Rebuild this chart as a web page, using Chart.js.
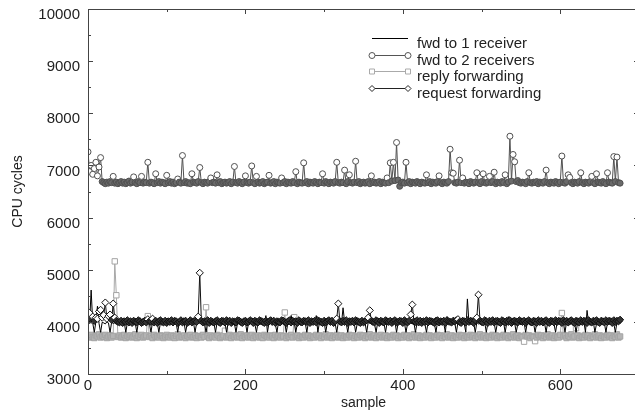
<!DOCTYPE html>
<html lang="en">
<head>
  <meta charset="UTF-8">
  <title>CPU cycles per sample</title>
  <script src="https://cdn.jsdelivr.net/npm/chart.js"></script>
  <style>
    body { margin: 0; background: #fff; }
    .wrap { width: 635px; height: 412px; overflow: hidden; }
  </style>
</head>
<body>
  <div class="wrap">
    <canvas id="cpuChart" width="645" height="412"></canvas>
  </div>

  <script>
    // every 2nd sample (sample index = position * 2)
    const fwdOne = [
      3990, 3970, 4610, 3980, 3800, 4000, 4300, 3970, 3800, 3990, 3980, 3960, 4000, 3980, 3800, 3990, 3970, 3980, 4000, 3960,
      3980, 3990, 3970, 4000, 3800, 3980, 3960, 3990, 4000, 3970, 3980, 3800, 3990, 3970, 4000, 3980, 3960, 3990, 3980, 3970,
      3800, 4000, 3980, 3970, 3990, 3800, 3980, 4000, 3960, 3990, 3980, 3970, 4000, 3980, 3960, 3990, 3980, 3800, 4000, 3970,
      3980, 3990, 3800, 3970, 4000, 3980, 3960, 3990, 3800, 3980, 4000, 3970, 3990, 3980, 3960, 3800, 3990, 3980, 3970, 4000,
      3980, 3800, 3990, 3960, 3980, 4000, 3970, 3990, 3800, 3980, 3960, 4000, 3990, 3970, 3800, 3980, 4080, 3990, 3970, 4000,
      3980, 3800, 3990, 3970, 3980, 4000, 3960, 3800, 3990, 3980, 3970, 4000, 3980, 4120, 3800, 3990, 3970, 3980, 4000, 3960,
      3800, 3990, 3980, 3970, 4000, 3980, 3800, 3990, 3960, 4120, 3980, 4000, 3800, 3970, 3990, 3980, 3960, 4000, 3980, 3800,
      3990, 3970, 3980, 4000, 3960, 4120, 3800, 3990, 3980, 3970, 4000, 3800, 3980, 3990, 3960, 3980, 4000, 3970, 3800, 3990,
      3980, 3960, 4270, 4000, 3980, 3800, 3990, 3970, 3980, 4000, 3800, 3960, 3990, 3980, 3970, 4000, 3980, 3800, 3990, 3970,
      3980, 4000, 3960, 3800, 3990, 3980, 3970, 4000, 3980, 3800, 3990, 3960, 3980, 4000, 3970, 3990, 3800, 3980, 4000, 3960,
      3990, 3980, 3800, 3970, 4000, 3980, 3960, 3990, 3800, 3980, 4000, 3970, 3990, 3980, 3960, 3800, 3990, 3980, 3970, 4000,
      3980, 3800, 3990, 3960, 3980, 4000, 3970, 3800, 4100, 3990, 3980, 3960, 4000, 3980, 3800, 3990, 3970, 3980, 4000, 3960,
      3800, 4440, 3980, 3970, 4000, 3980, 3800, 3990, 3960, 3980, 4000, 3970, 3990, 3800, 3980, 4000, 3960, 3990, 3980, 3800,
      3970, 4000, 3980, 3960, 3990, 3800, 3980, 4100, 4000, 3970, 3990, 3980, 3800, 3960, 4000, 3980, 3970, 3990, 3800, 3980,
      4000, 3960, 3990, 3980, 3800, 3970, 4000, 3980, 3960, 3990, 3980, 3800, 4000, 3970, 3990, 3980, 3960, 3800, 4000, 3980,
      3970, 3990, 3980, 3800, 4000, 3960, 3990, 3980, 3970, 4000, 3800, 3980, 3990, 3960, 3980, 4000, 3800, 4220, 3970, 3990,
      3980, 4000, 3800, 3960, 3990, 3980, 3970, 4000, 3980, 3800, 3990, 3960, 3980, 4000, 3970, 3800, 3990, 3980, 4000
    ];

    const fwdTwo = [
      7260, 6880, 7000, 6830, 6940, 7060, 6800, 6970, 7150, 6690, 6670, 6650, 6680, 6660, 6690, 6670, 6790, 6660, 6680, 6650,
      6670, 6690, 6660, 6680, 6650, 6670, 6700, 6660, 6680, 6780, 6670, 6650, 6690, 6670, 6790, 6660, 6680, 6670, 7060, 6660,
      6680, 6670, 6650, 6840, 6670, 6690, 6660, 6680, 6670, 6650, 6810, 6670, 6690, 6660, 6680, 6650, 6670, 6740, 6680, 6660,
      7190, 6670, 6690, 6660, 6670, 6650, 6840, 6680, 6670, 6660, 6690, 6960, 6670, 6650, 6680, 6670, 6660, 6690, 6760, 6670,
      6680, 6660, 6820, 6670, 6690, 6650, 6670, 6680, 6660, 6670, 6690, 6650, 6680, 6980, 6670, 6660, 6690, 6670, 6650, 6680,
      6800, 6670, 6660, 6680, 6990, 6670, 6650, 6790, 6680, 6660, 6670, 6690, 6650, 6670, 6680, 6810, 6660, 6670, 6690, 6650,
      6680, 6670, 6660, 6760, 6670, 6690, 6650, 6680, 6670, 6660, 6690, 6670, 6880, 6650, 6680, 6670, 6660, 7050, 6670, 6690,
      6650, 6680, 6670, 6660, 6690, 6670, 6650, 6680, 6670, 6840, 6660, 6690, 6670, 6650, 6680, 6670, 6660, 6690, 7060, 6670,
      6660, 6680, 6670, 6910, 6650, 6690, 6820, 6670, 6660, 6680, 7080, 6670, 6690, 6650, 6670, 6680, 6660, 6670, 6690, 6650,
      6800, 6670, 6680, 6660, 6670, 6690, 6650, 6680, 6670, 6660, 6760, 6670, 7050, 6700, 7060, 6710, 7440, 6720, 6600, 6670,
      6680, 6660, 7060, 6670, 6690, 6650, 6680, 6670, 6660, 6690, 6670, 6650, 6680, 6670, 6660, 6820, 6670, 6690, 6650, 6680,
      6670, 6660, 6690, 6800, 6670, 6650, 6680, 6670, 6660, 6690, 7310, 6860, 6850, 6670, 6660, 6680, 7100, 6670, 6760, 6660,
      6680, 6670, 6650, 6690, 6670, 6660, 6680, 6860, 6670, 6650, 6690, 6840, 6670, 6660, 6680, 6790, 6670, 6690, 6870, 6650,
      6680, 6670, 6660, 6690, 6670, 6820, 6650, 6680, 7560, 6700, 7210, 7070, 6690, 6710, 6670, 6660, 6680, 6670, 6650, 6690,
      6860, 6670, 6660, 6680, 6670, 6690, 6650, 6680, 6670, 6660, 6690, 6910, 6670, 6650, 6680, 6670, 6660, 6690, 6670, 6650,
      6680, 7180, 6670, 6660, 6690, 6820, 6770, 6670, 6650, 6680, 6670, 6660, 6690, 6860, 6670, 6650, 6680, 6670, 6660, 6690,
      6790, 6670, 6650, 6840, 6680, 6670, 6660, 6690, 6670, 6650, 6860, 6680, 6670, 6660, 7170, 6690, 7160, 6670, 6660
    ];

    const replyFwd = [
      3730, 3700, 3750, 3710, 3690, 3740, 3720, 3760, 3700, 3730, 3710, 3750, 3690, 3720, 3740, 3700, 3730, 5160, 4510, 3710,
      3740, 3700, 3720, 3750, 3690, 3730, 3710, 3740, 3700, 3720, 3760, 3690, 3730, 3710, 3750, 3700, 3720, 3740, 4110, 3710,
      3730, 3690, 3750, 3710, 3720, 3700, 3740, 3730, 3690, 3720, 3750, 3710, 3700, 3740, 3720, 3690, 3730, 3760, 3700, 3720,
      3710, 3740, 3690, 3730, 3720, 3750, 3700, 3710, 3740, 3690, 3730, 3720, 3700, 3750, 3710, 4280, 3730, 3690, 3740, 3710,
      3720, 3700, 3750, 3730, 3690, 3710, 3740, 3830, 3700, 3720, 3750, 3690, 3730, 3710, 3740, 3700, 3720, 3760, 3690, 3730,
      3710, 3740, 3700, 3720, 3750, 3690, 3730, 3710, 3740, 3700, 3720, 3690, 3750, 3730, 3710, 3700, 3740, 3720, 3690, 3750,
      3710, 3730, 3700, 3740, 3720, 4180, 3690, 3730, 3710, 3750, 3700, 4090, 3720, 3740, 3690, 3730, 3710, 3700, 3750, 3720,
      3740, 3690, 3730, 3710, 3700, 3750, 3720, 3740, 3690, 3730, 3710, 3760, 3700, 3720, 3740, 3690, 3730, 3710, 3750, 3700,
      3720, 3740, 3690, 3730, 3710, 3700, 3750, 3720, 3740, 3690, 3730, 3710, 3700, 3750, 3720, 3740, 3690, 3730, 3710, 3760,
      3700, 3720, 3740, 3690, 3730, 3710, 3750, 3700, 3720, 3740, 3690, 3730, 3710, 3700, 3750, 3720, 3740, 3690, 3730, 3710,
      3700, 3750, 3720, 3740, 3690, 3730, 3710, 3760, 3700, 3720, 3740, 3690, 3730, 3710, 3700, 3750, 3720, 3740, 3690, 3730,
      3710, 3700, 3750, 3720, 3740, 3690, 3730, 3710, 3760, 3700, 3720, 3740, 3690, 3730, 3710, 3700, 3750, 3720, 3740, 3690,
      3730, 3710, 3700, 3750, 3720, 3740, 3690, 3730, 3710, 3760, 3700, 3720, 3740, 3690, 3730, 3710, 3700, 3750, 3720, 3740,
      3690, 3730, 3710, 3700, 3750, 3720, 3740, 3690, 3730, 3710, 3760, 3700, 3720, 3740, 3690, 3730, 3710, 3620, 3750, 3720,
      3740, 3690, 3730, 3710, 3630, 3700, 3750, 3720, 3740, 3690, 3730, 3710, 3760, 3700, 3720, 3740, 3690, 3730, 3710, 3700,
      3750, 4170, 3720, 3740, 3690, 3730, 3710, 3760, 3700, 3720, 3880, 3740, 3690, 3730, 3710, 3700, 3750, 3720, 3740, 3690,
      3730, 3710, 3760, 3700, 3720, 3740, 3690, 3730, 3710, 3700, 3750, 3720, 3740, 3690, 3730, 3710, 3760, 3700, 3720
    ];

    const requestFwd = [
      4060, 4170, 4040, 4100, 4020, 4080, 4060, 4200, 4230, 4080, 4130, 4370, 4060, 4110, 4140, 4040, 4350, 4080, 4020, 4000,
      3990, 4020, 3980, 4010, 4000, 4030, 3990, 4010, 3980, 4020, 4000, 3990, 4030, 4010, 3980, 4000, 4020, 3990, 4050, 4010,
      4000, 4060, 3990, 4020, 3980, 4010, 4030, 4000, 3990, 4020, 3980, 4010, 4000, 4030, 3990, 4020, 4010, 3980, 4000, 4030,
      3990, 4010, 4020, 3980, 4000, 4030, 3990, 4010, 4020, 4000, 4100, 4940, 4020, 3990, 4010, 4000, 4030, 3980, 4020, 4000,
      3990, 4010, 4030, 4000, 3980, 4020, 4010, 3990, 4030, 4000, 4020, 3980, 4010, 4000, 3990, 4030, 4020, 4000, 3980, 4010,
      4020, 3990, 4000, 4030, 4010, 3980, 4020, 4000, 3990, 4030, 4010, 4000, 3980, 4020, 3990, 4010, 4030, 4000, 4020, 3980,
      4010, 4000, 3990, 4030, 4020, 4000, 3980, 4010, 4030, 3990, 4020, 4000, 4010, 3980, 4030, 4000, 3990, 4020, 4010, 4000,
      4030, 3980, 4010, 4000, 4020, 3990, 4030, 4010, 4000, 3980, 4020, 3990, 4010, 4030, 4000, 4020, 3980, 4010, 4060, 4350,
      4010, 3990, 4020, 4000, 4030, 3980, 4010, 4000, 4020, 3990, 4030, 4010, 4000, 3980, 4020, 3990, 4010, 4030, 4080, 4220,
      4020, 4000, 3990, 4030, 4010, 3980, 4020, 4000, 3990, 4030, 4010, 4000, 4020, 3980, 4010, 4030, 3990, 4000, 4020, 4010,
      3980, 4030, 4000, 3990, 4020, 4140, 4330, 4010, 4000, 4030, 3990, 4020, 3980, 4010, 4000, 4030, 3990, 4020, 4010, 4000,
      3980, 4020, 4030, 3990, 4010, 4000, 4020, 3980, 4030, 4010, 4000, 3990, 4020, 4010, 4030, 4050, 4000, 3980, 4020, 4010,
      3990, 4030, 4000, 4020, 4010, 3980, 4030, 4080, 4520, 4020, 4000, 3990, 4030, 4010, 3980, 4020, 4000, 4030, 3990, 4010,
      4020, 4000, 3980, 4030, 4010, 3990, 4020, 4000, 4030, 3980, 4010, 4020, 4000, 3990, 4030, 4010, 4000, 4020, 3980, 4010,
      4030, 4000, 3990, 4020, 4010, 3980, 4030, 4000, 4020, 3990, 4010, 4030, 4000, 3980, 4020, 4010, 3990, 4030, 4000, 4020,
      4010, 3980, 4030, 4000, 4020, 3990, 4010, 4030, 4000, 3980, 4020, 4010, 3990, 4030, 4000, 4020, 4010, 3980, 4030, 4000,
      3990, 4020, 4010, 4030, 4000, 3980, 4020, 4010, 3990, 4030, 4000, 4020, 4010, 3980, 4030, 4000, 4020, 4010, 4040
    ];

    const seriesNames = ['fwd to 1 receiver', 'fwd to 2 receivers', 'reply forwarding', 'request forwarding'];
    const yMajor = [3000, 4000, 5000, 6000, 7000, 8000, 9000, 10000];
    const yMinor = [3500, 4500, 5500, 6500, 7500, 8500, 9500];
    const xMajor = [0, 200, 400, 600];
    const xMinor = [100, 300, 500];

    const nPoints = Math.max(fwdOne.length, fwdTwo.length, replyFwd.length, requestFwd.length);
    const samples = Array.from({ length: nPoints }, (_, i) => i * 2);

    const FONT = "'Liberation Sans', Arial, sans-serif";
    const TEXT = '#222';

    // markers inside the dense band are filled so the band reads solid,
    // the outliers keep an open marker like in the original
    const bandFill = (lo, hi, fill) => ctx => {
      const v = ctx.raw;
      return (v >= lo && v <= hi) ? fill : '#fff';
    };

    // frame with inward ticks on all four sides, plus the in-plot legend
    const framePlugin = {
      id: 'frame',
      afterDraw(chart) {
        const { ctx, chartArea: a, scales: { x, y } } = chart;
        ctx.save();
        ctx.strokeStyle = '#444';
        ctx.lineWidth = 1;
        ctx.strokeRect(a.left + 0.5, a.top + 0.5, a.right - a.left, a.bottom - a.top);
        ctx.beginPath();
        const yTick = (v, len) => {
          const py = Math.round(y.getPixelForValue(v)) + 0.5;
          ctx.moveTo(a.left, py); ctx.lineTo(a.left + len, py);
          ctx.moveTo(a.right, py); ctx.lineTo(a.right - len, py);
        };
        const xTick = (v, len) => {
          const px = Math.round(x.getPixelForValue(v)) + 0.5;
          ctx.moveTo(px, a.bottom); ctx.lineTo(px, a.bottom - len);
          ctx.moveTo(px, a.top); ctx.lineTo(px, a.top + len);
        };
        yMajor.forEach(v => yTick(v, 5));
        yMinor.forEach(v => yTick(v, 3));
        xMajor.forEach(v => xTick(v, 5));
        xMinor.forEach(v => xTick(v, 3));
        ctx.stroke();

        // legend
        const x0 = 372, x1 = 408, tx = 417;
        const rows = [38, 55, 71, 88];
        const styles = [
          { color: '#000', marker: null },
          { color: '#555', marker: 'circle' },
          { color: '#aaa', marker: 'rect' },
          { color: '#222', marker: 'rectRot' }
        ];
        ctx.font = '15px ' + FONT;
        ctx.textBaseline = 'middle';
        ctx.textAlign = 'left';
        rows.forEach((ry, k) => {
          const st = styles[k];
          ctx.strokeStyle = st.color;
          ctx.lineWidth = 1;
          ctx.beginPath();
          ctx.moveTo(x0, ry + 0.5); ctx.lineTo(x1, ry + 0.5);
          ctx.stroke();
          [x0, x1].forEach(px => {
            if (!st.marker) return;
            ctx.beginPath();
            if (st.marker === 'circle') {
              ctx.arc(px, ry + 0.5, 3, 0, Math.PI * 2);
            } else if (st.marker === 'rect') {
              ctx.rect(px - 2.5, ry - 2, 5, 5);
            } else {
              ctx.moveTo(px, ry - 2.5); ctx.lineTo(px + 3, ry + 0.5);
              ctx.lineTo(px, ry + 3.5); ctx.lineTo(px - 3, ry + 0.5);
              ctx.closePath();
            }
            ctx.fillStyle = '#fff';
            ctx.fill();
            ctx.stroke();
          });
          ctx.fillStyle = TEXT;
          ctx.fillText(seriesNames[k], tx, ry + 6);
        });
        ctx.restore();
      }
    };

    new Chart(document.getElementById('cpuChart'), {
      type: 'line',
      data: {
        labels: samples,
        datasets: [
          {
            label: seriesNames[0], data: fwdOne, order: 2,
            borderColor: '#000', borderWidth: 1, pointRadius: 0
          },
          {
            label: seriesNames[1], data: fwdTwo, order: 4,
            borderColor: '#505050', borderWidth: 1,
            pointStyle: 'circle', pointRadius: 3, pointBorderWidth: 1,
            pointBorderColor: '#505050', pointBackgroundColor: bandFill(6600, 6720, '#6a6a6a')
          },
          {
            label: seriesNames[2], data: replyFwd, order: 3,
            borderColor: '#a8a8a8', borderWidth: 1,
            pointStyle: 'rect', pointRadius: 3.8, pointBorderWidth: 1,
            pointBorderColor: '#a4a4a4', pointBackgroundColor: bandFill(3680, 3770, '#b4b4b4')
          },
          {
            label: seriesNames[3], data: requestFwd, order: 1,
            borderColor: '#111', borderWidth: 1,
            pointStyle: 'rectRot', pointRadius: 3.6, pointBorderWidth: 1,
            pointBorderColor: '#111', pointBackgroundColor: bandFill(3970, 4040, '#333')
          }
        ]
      },
      options: {
        responsive: false,
        animation: false,
        devicePixelRatio: 1,
        layout: { padding: { left: 0, top: 9, right: 6, bottom: 0 } },
        plugins: { legend: { display: false }, tooltip: { enabled: false } },
        elements: { line: { tension: 0 } },
        scales: {
          x: {
            type: 'linear',
            min: 0, max: 700,
            grid: { display: false, drawTicks: false },
            border: { display: false },
            ticks: { stepSize: 200, padding: 3, color: TEXT, font: { family: FONT, size: 15 }, callback: v => String(v) },
            afterBuildTicks: s => { s.ticks = s.ticks.filter(t => xMajor.includes(t.value)); },
            afterFit: s => { s.height = 38; s.paddingLeft = 0; s.paddingRight = 0; },
            title: { display: true, text: 'sample', color: TEXT, padding: { top: 0, bottom: 0 }, font: { family: FONT, size: 14 } }
          },
          y: {
            min: 3000, max: 10000,
            grid: { display: false, drawTicks: false },
            border: { display: false },
            ticks: { stepSize: 1000, padding: 8, labelOffset: 6, color: TEXT, font: { family: FONT, size: 15 }, callback: v => String(v) },
            afterFit: s => { s.width = 88; s.paddingTop = 0; s.paddingBottom = 0; },
            title: { display: true, text: 'CPU cycles', color: TEXT, padding: { top: 10, bottom: 0 }, font: { family: FONT, size: 14 } }
          }
        }
      },
      plugins: [framePlugin]
    });
  </script>
</body>
</html>
